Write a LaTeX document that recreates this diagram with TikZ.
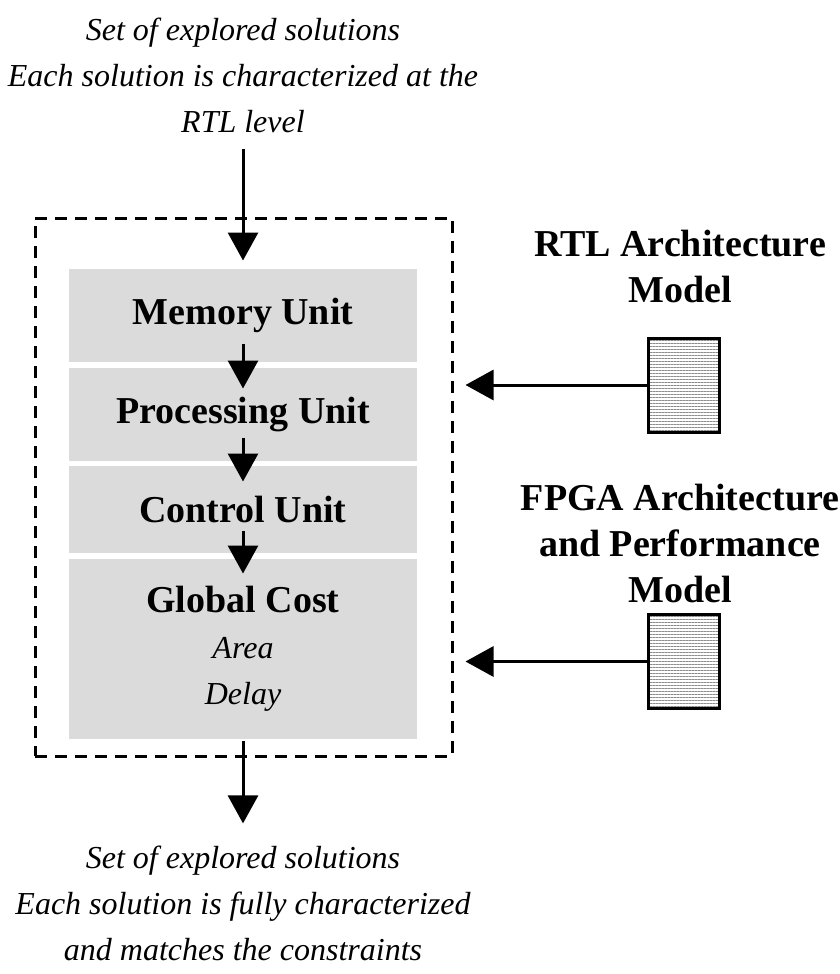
\documentclass[tikz,border=0pt]{standalone}
\usepackage{fontspec}
\setmainfont{Liberation Serif}
\usetikzlibrary{arrows.meta,patterns.meta}

\begin{document}
\begin{tikzpicture}[x=0.5pt, y=-0.5pt, line width=1.5pt,
    >={Triangle[width=15pt,length=14pt]},
    note/.style={align=center, font=\fontsize{16}{23}\selectfont\itshape},
    unit/.style={fill=black!14, minimum width=174pt, inner sep=0pt, align=center,
      font=\fontsize{19}{23}\selectfont\bfseries},
    model/.style={align=center, font=\fontsize{19}{23}\selectfont\bfseries},
    doc/.style={draw, minimum width=35.5pt, minimum height=47pt, inner sep=0pt,
      pattern={Lines[angle=0,distance=1.5pt,line width=0.5pt]}, pattern color=black!45}]
    \useasboundingbox (0,0) rectangle (840,974);
    % evaluation chain
    \node [note] (Top) at (243, 75) {Set of explored solutions\\Each solution is characterized at the\\RTL level};
    \node [draw, dash pattern=on 6pt off 4pt, inner sep=0pt, minimum width=208.5pt, minimum height=269pt] (Frame) at (243.5, 487) {};
    \node [unit, minimum height=46.5pt] (Mem) at (243, 315.5) {Memory Unit};
    \node [unit, minimum height=46.5pt] (Proc) at (243, 414.5) {Processing Unit};
    \node [unit, minimum height=43.5pt] (Ctrl) at (243, 509.5) {Control Unit};
    \node [unit, minimum height=90pt] (Cost) at (243, 649) {Global Cost\\{\fontsize{16}{23}\selectfont\mdseries\itshape Area}\\{\fontsize{16}{23}\selectfont\mdseries\itshape Delay}};
    \node [note] (Bot) at (243, 903) {Set of explored solutions\\Each solution is fully characterized\\and matches the constraints};
    % models
    \node [model] (RTL) at (680, 266) {RTL Architecture\\Model};
    \node [doc] (RTLdoc) at (683.5, 385) {};
    \node [model] (FPGA) at (680, 543) {FPGA Architecture\\and Performance\\Model};
    \node [doc] (FPGAdoc) at (683.5, 661.5) {};
    \draw [->, shorten <=4pt, shorten >=3.5pt] (Top) -- (Mem);
    \draw [->] ([yshift=10pt]Mem.south) -- ([yshift=-11pt]Proc.north);
    \draw [->] ([yshift=12.5pt]Proc.south) -- ([yshift=-8.5pt]Ctrl.north);
    \draw [->] ([yshift=12pt]Ctrl.south) -- ([yshift=-8pt]Cost.north);
    \draw [->, shorten >=7pt] (Cost) -- (Bot);
    \draw [->, shorten >=6pt] (RTLdoc) -- (RTLdoc -| Frame.east);
    \draw [->, shorten >=6pt] (FPGAdoc) -- (FPGAdoc -| Frame.east);
\end{tikzpicture}
\end{document}
